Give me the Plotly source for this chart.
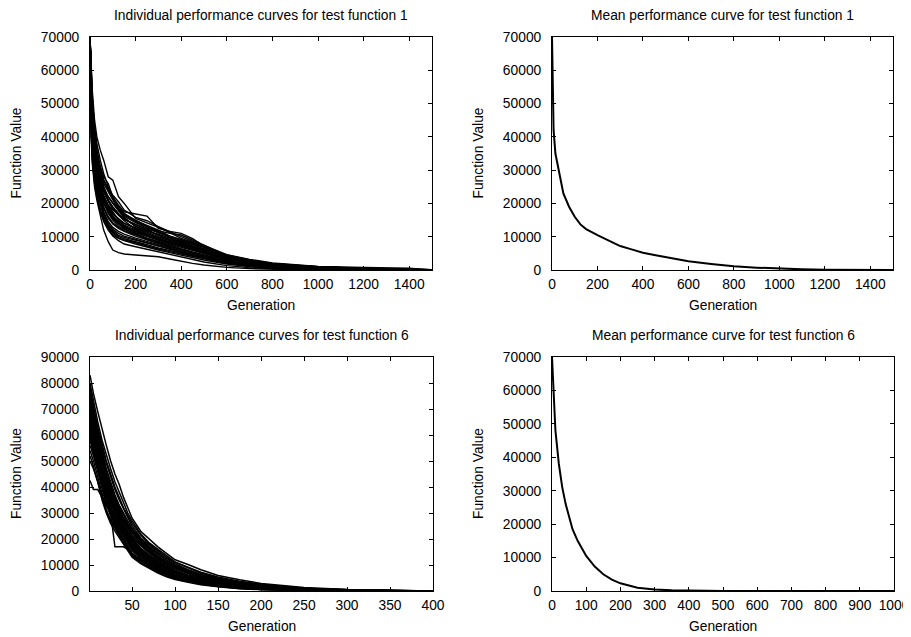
import plotly.graph_objects as go

# ---------------- data ----------------
# Test function 1: individual runs (values in thousands) on a shared generation grid
f1_gen = [0, 5, 10, 20, 30, 45, 60, 80, 100, 125, 150, 200, 250, 300, 350, 400,
          450, 500, 600, 700, 800, 900, 1000, 1200, 1400, 1500]
f1_runs_k = [
    [70, 62, 52, 42, 36, 31, 27, 24, 22, 19.5, 17.5, 16.8, 16.2, 12.5, 11.6, 11.0, 9.4, 7.2, 3.9, 2.6, 1.6, 1.1, 0.8, 0.4, 0.2, 0.05],
    [70, 60, 54, 45, 40, 36, 33, 28, 27, 22, 20, 15.5, 14.2, 12.8, 11.2, 9.5, 8.4, 6.8, 4.0, 2.8, 1.9, 1.3, 0.9, 0.5, 0.3, 0.1],
    [70, 55, 47, 38, 33, 28, 25, 21, 18.5, 16.5, 15.2, 13.8, 12.2, 11.5, 9.8, 8.0, 6.5, 5.6, 3.4, 2.2, 1.5, 1.0, 0.7, 0.35, 0.15, 0.0],
    [70, 52, 44, 35, 30, 25, 21, 18, 16, 14.5, 13.5, 12.0, 10.5, 9.0, 8.0, 7.2, 6.0, 5.0, 3.0, 2.0, 1.3, 0.9, 0.6, 0.3, 0.1, 0.0],
    [70, 48, 40, 32, 27, 22, 18.5, 15.5, 13.8, 12.5, 11.6, 10.2, 9.0, 7.8, 6.8, 5.8, 5.0, 4.2, 2.6, 1.7, 1.0, 0.7, 0.5, 0.2, 0.05, 0.0],
    [70, 45, 36, 28, 23, 18, 15, 12.5, 10.5, 9.5, 8.8, 7.8, 6.8, 6.0, 5.2, 4.4, 3.6, 3.0, 1.8, 1.0, 0.6, 0.4, 0.2, 0.1, 0.0, 0.0],
    [70, 40, 32, 25, 21, 16, 12, 8.5, 6.0, 5.2, 4.8, 4.5, 4.3, 4.0, 3.3, 2.6, 2.0, 1.5, 0.8, 0.4, 0.2, 0.1, 0.05, 0.0, 0.0, 0.0],
    [70, 58, 49, 41, 36, 31, 28, 26, 22, 18.5, 16.5, 14.5, 13.0, 11.8, 11.0, 10.5, 9.0, 7.5, 4.2, 2.6, 1.7, 1.2, 0.9, 0.45, 0.25, 0.05],
    [70, 54, 46, 37, 31, 26, 22.5, 19, 17, 15.5, 14.0, 12.5, 11.0, 9.6, 8.4, 7.5, 6.6, 5.8, 3.6, 2.4, 1.6, 1.1, 0.7, 0.35, 0.15, 0.0],
    [70, 50, 42, 33, 28, 24, 20.5, 17, 15, 13.2, 12.2, 11.0, 9.6, 8.6, 7.4, 6.4, 5.4, 4.6, 2.9, 1.9, 1.2, 0.8, 0.5, 0.25, 0.1, 0.0],
    [70, 47, 39, 31, 26, 21, 17, 14, 12.2, 11.0, 10.2, 9.2, 8.2, 7.0, 6.0, 5.2, 4.4, 3.7, 2.3, 1.5, 0.9, 0.6, 0.4, 0.15, 0.05, 0.0],
    [70, 57, 51, 43, 38, 33, 29, 25, 21.5, 19, 17, 14.8, 13.5, 12.0, 10.2, 9.0, 8.0, 7.0, 4.5, 3.0, 2.0, 1.4, 1.0, 0.5, 0.3, 0.1],
    [70, 44, 37, 30, 25.5, 21, 17.5, 14.5, 12.8, 11.6, 10.8, 9.6, 8.6, 7.6, 6.4, 5.6, 4.7, 4.0, 2.4, 1.4, 0.8, 0.5, 0.3, 0.1, 0.0, 0.0],
    [70, 53, 45, 36, 31, 27, 24, 21, 19, 17, 15.5, 13.2, 11.8, 10.5, 9.2, 8.2, 7.0, 6.0, 3.8, 2.5, 1.7, 1.2, 0.8, 0.4, 0.2, 0.0],
    [70, 42, 34, 27, 22, 17.5, 14.5, 12, 10.2, 8.8, 7.8, 7.0, 6.2, 5.4, 4.6, 3.8, 3.0, 2.4, 1.3, 0.7, 0.4, 0.2, 0.1, 0.0, 0.0, 0.0],
    [70, 60, 52, 42, 35, 29, 25, 22, 20, 18, 16.8, 15.0, 13.0, 11.2, 10.0, 8.8, 7.6, 6.4, 4.0, 2.7, 1.8, 1.2, 0.9, 0.45, 0.25, 0.05],
    [70, 49, 41, 33, 29, 25, 22, 19.5, 17.5, 15, 13.2, 11.5, 10.2, 9.2, 8.2, 7.0, 6.0, 5.2, 3.2, 2.1, 1.4, 0.9, 0.6, 0.3, 0.1, 0.0],
    [70, 46, 38, 30, 25, 20, 16.5, 13.5, 11.5, 10.0, 9.4, 8.6, 7.6, 6.6, 5.8, 5.0, 4.2, 3.5, 2.1, 1.2, 0.7, 0.45, 0.25, 0.1, 0.0, 0.0],
    [70, 56, 48, 39, 34, 29.5, 26, 23.5, 21, 18, 15.8, 13.0, 11.6, 10.8, 9.6, 8.6, 7.8, 6.8, 4.4, 3.0, 2.0, 1.4, 1.0, 0.55, 0.35, 0.1],
    [70, 51, 43, 34, 29, 24.5, 21, 18.5, 16.2, 14.2, 12.8, 11.2, 10.0, 8.8, 7.8, 6.8, 5.8, 5.0, 3.2, 2.0, 1.3, 0.85, 0.55, 0.25, 0.1, 0.0],
    [70, 43, 35, 28, 24, 19.5, 16, 13, 11.0, 9.6, 9.0, 8.2, 7.2, 6.3, 5.5, 4.8, 4.0, 3.3, 2.0, 1.1, 0.6, 0.35, 0.2, 0.05, 0.0, 0.0],
    [70, 59, 50, 40, 34, 30, 27, 24.5, 22.5, 20.5, 18, 15.8, 14.8, 13.0, 11.4, 10.0, 8.6, 7.4, 4.6, 3.2, 2.1, 1.5, 1.1, 0.8, 0.55, 0.0],
    [70, 48, 40, 31, 26, 22, 19, 16, 14.2, 12.8, 11.8, 10.6, 9.4, 8.2, 7.2, 6.2, 5.2, 4.4, 2.8, 1.8, 1.1, 0.7, 0.45, 0.2, 0.05, 0.0],
    [70, 55, 46, 36, 30, 25.5, 22, 19.5, 18.2, 16.5, 14.8, 12.2, 10.8, 9.8, 8.8, 7.8, 7.0, 6.2, 3.9, 2.6, 1.7, 1.1, 0.75, 0.4, 0.2, 0.0],
    [70, 41, 33, 26, 22, 18, 15.5, 13.2, 11.8, 10.4, 9.8, 9.0, 8.0, 7.2, 6.4, 5.4, 4.6, 3.8, 2.2, 1.3, 0.8, 0.5, 0.3, 0.1, 0.0, 0.0],
    [70, 52, 43, 35, 30, 26.5, 23.5, 20.5, 18.5, 16.8, 15.2, 13.6, 12.2, 10.4, 9.2, 8.4, 7.2, 6.2, 3.7, 2.3, 1.5, 1.0, 0.7, 0.35, 0.15, 0.0],
    [70, 46, 38, 31, 27, 23, 20, 17.5, 15.6, 14.0, 12.8, 11.6, 10.4, 9.4, 8.4, 7.2, 6.2, 5.4, 3.4, 2.2, 1.4, 0.9, 0.6, 0.25, 0.1, 0.0],
    [70, 54, 47, 38, 32, 28, 24.5, 22, 20, 17.8, 16.2, 14.2, 12.6, 11.2, 10.2, 9.2, 8.2, 7.1, 4.3, 2.8, 1.8, 1.3, 0.9, 0.45, 0.2, 0.05],
    [70, 50, 41, 32, 27, 23, 20, 17.5, 15.5, 13.8, 12.4, 10.8, 9.2, 8.0, 7.0, 6.0, 5.2, 4.4, 2.6, 1.6, 1.0, 0.65, 0.4, 0.15, 0.05, 0.0],
    [70, 47, 40, 33, 28.5, 24.5, 21.5, 18.5, 16.8, 15.2, 14.0, 12.8, 11.4, 10.0, 8.8, 7.6, 6.6, 5.6, 3.5, 2.3, 1.5, 1.0, 0.7, 0.3, 0.15, 0.0],
]

# Test function 1: mean curve
f1_mean_gen = [0, 3, 7, 15, 30, 50, 75, 100, 125, 150, 200, 250, 300, 350, 400, 450,
               500, 600, 700, 800, 900, 1000, 1100, 1200, 1300, 1400, 1500]
f1_mean_val = [70000, 52000, 42000, 35000, 29500, 23000, 19000, 16000, 13700, 12300, 10500,
               8800, 7200, 6200, 5200, 4500, 3800, 2600, 1800, 1100, 700, 400, 200, 100,
               50, 20, 0]

# Test function 6: individual runs (values in thousands)
f6_gen = [1, 5, 10, 15, 20, 25, 30, 35, 40, 45, 50, 60, 70, 80, 90, 100, 115, 130,
          150, 175, 200, 250, 300, 350, 400]
f6_runs_k = [
    [83, 76, 69, 62, 56, 50, 45, 41, 36, 32, 28, 23, 20, 17, 14.5, 12, 10.2, 8.2, 6.0, 4.3, 2.9, 1.3, 0.6, 0.25, 0.0],
    [80, 73, 65, 58, 52, 47, 42, 38, 34, 30, 27, 22, 18.5, 16, 13.5, 11.2, 9.2, 7.2, 5.4, 3.8, 2.6, 1.1, 0.45, 0.15, 0.0],
    [78, 70, 62, 55, 49, 44, 39, 35, 31.5, 28, 25, 20.5, 17.5, 15, 12.5, 10.5, 8.2, 6.4, 4.8, 3.3, 2.2, 0.95, 0.4, 0.12, 0.0],
    [76, 68, 61, 53, 46, 41, 36, 32.5, 29, 26, 23.5, 19.5, 16.5, 14, 11.8, 9.8, 7.6, 5.9, 4.3, 2.9, 1.9, 0.85, 0.35, 0.1, 0.0],
    [74, 66, 58, 50, 44, 39, 35, 31, 27.5, 25, 22.5, 18, 15, 12.8, 10.8, 9, 7, 5.4, 4.0, 2.7, 1.8, 0.8, 0.3, 0.1, 0.0],
    [72, 65, 57, 49, 43, 38, 34, 30, 27, 24, 21, 17.5, 14.5, 12, 10, 8.5, 6.6, 5.0, 3.6, 2.4, 1.6, 0.7, 0.25, 0.08, 0.0],
    [70, 63, 56, 48, 42, 37, 33, 29.5, 26, 23, 20.5, 16.5, 13.8, 11.5, 9.6, 8, 6.2, 4.7, 3.4, 2.2, 1.5, 0.6, 0.2, 0.05, 0.0],
    [68, 61, 54, 47, 41, 36, 32, 28.5, 25, 22, 19.5, 16, 13, 10.8, 9.0, 7.5, 5.8, 4.4, 3.1, 2.0, 1.3, 0.55, 0.2, 0.05, 0.0],
    [66, 59, 52, 45, 39, 35, 31, 27.5, 24, 21, 18.5, 15, 12.2, 10.2, 8.5, 7, 5.4, 4.1, 2.9, 1.8, 1.2, 0.5, 0.15, 0.04, 0.0],
    [64, 58, 51, 44, 38, 34, 30, 26.5, 23, 20, 17.5, 14, 11.5, 9.5, 8, 6.5, 5, 3.8, 2.6, 1.6, 1.0, 0.4, 0.12, 0.03, 0.0],
    [62, 57, 50, 43, 37, 32, 28, 25, 22, 19, 16.5, 13.2, 10.8, 9, 7.5, 6, 4.6, 3.5, 2.4, 1.5, 0.9, 0.35, 0.1, 0.0, 0.0],
    [60, 55, 49, 42, 36, 31, 27, 24, 21, 18, 15.5, 12.5, 10.2, 8.4, 7, 5.6, 4.3, 3.2, 2.2, 1.3, 0.8, 0.3, 0.08, 0.0, 0.0],
    [58, 53, 47, 40, 34, 30, 26, 23, 20, 17, 14.5, 12, 9.8, 8, 6.6, 5.2, 4, 3, 2.0, 1.2, 0.7, 0.25, 0.05, 0.0, 0.0],
    [56, 52, 46, 39, 33, 29, 25.5, 22, 19.5, 16.5, 14, 11.5, 9.4, 7.6, 6.2, 5, 3.8, 2.8, 1.9, 1.1, 0.65, 0.2, 0.05, 0.0, 0.0],
    [54, 50, 44, 37, 31, 27, 24, 21, 18.5, 16, 13.5, 11, 9, 7.2, 5.8, 4.7, 3.6, 2.6, 1.7, 1.0, 0.6, 0.2, 0.04, 0.0, 0.0],
    [52, 48, 42, 35, 30, 26, 23, 20.5, 18, 15.5, 13, 10.5, 8.6, 6.9, 5.5, 4.4, 3.4, 2.4, 1.6, 0.9, 0.5, 0.15, 0.03, 0.0, 0.0],
    [50, 47, 42, 36, 31, 27.5, 25, 22, 20, 17, 14, 12, 10, 8.0, 7.0, 5.0, 4.0, 3.0, 2.0, 1.2, 0.7, 0.2, 0.05, 0.0, 0.0],
    [42.5, 39, 39, 36, 33, 30, 27, 24, 21.5, 19, 17, 14, 11.5, 9.5, 7.8, 6.4, 4.8, 3.6, 2.5, 1.5, 0.9, 0.35, 0.1, 0.0, 0.0],
    [70, 62, 53, 44, 36, 30, 17, 17, 17, 16, 14.5, 12, 10, 8.5, 7, 5.8, 4.4, 3.3, 2.2, 1.4, 0.85, 0.3, 0.08, 0.0, 0.0],
    [79, 71, 63, 56, 50, 45, 40, 36, 32, 29, 26, 21.5, 18, 15.5, 13, 11, 8.8, 6.8, 5.0, 3.5, 2.4, 1.0, 0.4, 0.15, 0.0],
    [75, 67, 59, 52, 45, 40, 35.5, 31.5, 28, 25.5, 23, 19, 16, 13.5, 11.2, 9.4, 7.3, 5.6, 4.1, 2.8, 1.9, 0.8, 0.3, 0.1, 0.0],
    [71, 64, 57, 50, 44, 39, 34.5, 30.5, 27.5, 24.5, 21.5, 17.5, 14.8, 12.4, 10.4, 8.8, 6.8, 5.2, 3.8, 2.5, 1.7, 0.7, 0.25, 0.08, 0.0],
    [67, 60, 53, 46, 40, 35.5, 31.5, 28, 24.5, 21.5, 19, 15.5, 12.6, 10.5, 8.8, 7.3, 5.6, 4.2, 3.0, 1.9, 1.25, 0.5, 0.18, 0.05, 0.0],
    [63, 57, 50, 43, 38, 33.5, 29.5, 26, 23, 20, 17.8, 14.5, 11.8, 9.8, 8.2, 6.8, 5.2, 3.9, 2.7, 1.7, 1.1, 0.45, 0.12, 0.03, 0.0],
    [59, 54, 48, 41, 35.5, 31, 27, 24, 21.5, 18.5, 16, 13, 10.6, 8.8, 7.2, 5.9, 4.5, 3.4, 2.3, 1.4, 0.85, 0.3, 0.08, 0.0, 0.0],
    [77, 69, 61, 54, 47, 42, 37, 33, 30, 27, 24, 20, 17, 14.5, 12, 10, 7.9, 6.1, 4.5, 3.1, 2.1, 0.9, 0.35, 0.12, 0.0],
    [73, 66, 58, 51, 45, 40, 35, 31, 28, 25, 22.5, 18.5, 15.5, 13, 10.8, 9.2, 7.1, 5.5, 4.0, 2.7, 1.8, 0.75, 0.28, 0.09, 0.0],
    [65, 58, 51, 44, 38.5, 34, 30.5, 27, 23.5, 20.5, 18, 14.8, 12, 10, 8.3, 6.9, 5.3, 4.0, 2.8, 1.75, 1.15, 0.48, 0.14, 0.04, 0.0],
    [61, 56, 49.5, 42.5, 37, 32.5, 28.5, 25.5, 22.5, 19.5, 17, 13.8, 11.2, 9.3, 7.7, 6.3, 4.8, 3.6, 2.5, 1.55, 0.95, 0.38, 0.1, 0.02, 0.0],
    [69, 62, 55, 48, 42, 37, 33, 29, 25.5, 22.5, 20, 16.2, 13.4, 11.2, 9.3, 7.8, 6.0, 4.6, 3.3, 2.1, 1.4, 0.58, 0.22, 0.06, 0.0],
]

# Test function 6: mean curve
f6_mean_gen = [0, 5, 10, 20, 30, 40, 50, 60, 75, 100, 125, 150, 175, 200, 250, 300,
               350, 400, 500, 600, 700, 800, 900, 1000]
f6_mean_val = [70000, 57000, 48000, 38000, 31000, 26000, 22000, 18500, 15000, 10500, 7300,
               5000, 3400, 2300, 1000, 450, 200, 80, 20, 5, 0, 0, 0, 0]

titles = ["Individual performance curves for test function 1",
          "Mean performance curve for test function 1",
          "Individual performance curves for test function 6",
          "Mean performance curve for test function 6"]
x_label = "Generation"
y_label = "Function Value"

# ---------------- figure ----------------
OFF = 8                      # page body margin in the browser
W, H = 911 - OFF, 637 - OFF
FONT = "Liberation Sans, Arial, Helvetica, sans-serif"
FS = 13.8

# plot-area boxes in window pixels (left, right, top, bottom)
boxes = [(90, 432, 37, 270), (552, 893, 37, 270), (90, 433, 357, 591), (552, 894, 357, 591)]

fig = go.Figure()

def add_line(x, y, ax, width):
    fig.add_trace(go.Scatter(x=x, y=y, mode="lines", xaxis="x" + ax, yaxis="y" + ax,
                             line=dict(color="black", width=width), showlegend=False,
                             hoverinfo="skip"))

for run in f1_runs_k:
    add_line(f1_gen, [v * 1000 for v in run], "", 1.4)
add_line(f1_mean_gen, f1_mean_val, "2", 2)
for run in f6_runs_k:
    add_line(f6_gen, [v * 1000 for v in run], "3", 1.5)
add_line(f6_mean_gen, f6_mean_val, "4", 2)

axis_common = dict(showline=True, linecolor="black", linewidth=1, mirror="ticks",
                   ticks="inside", ticklen=4, tickwidth=1, tickcolor="black",
                   showgrid=False, zeroline=False, automargin=False,
                   tickfont=dict(family=FONT, size=FS, color="black"))

xcfg = [dict(range=[0, 1500], tickvals=list(range(0, 1401, 200))),
        dict(range=[0, 1500], tickvals=list(range(0, 1401, 200))),
        dict(range=[1, 400], tickvals=list(range(50, 401, 50))),
        dict(range=[0, 1000], tickvals=list(range(0, 1001, 100)))]
ycfg = [dict(range=[0, 70000], tickvals=list(range(0, 70001, 10000))),
        dict(range=[0, 70000], tickvals=list(range(0, 70001, 10000))),
        dict(range=[0, 90000], tickvals=list(range(0, 90001, 10000))),
        dict(range=[0, 70000], tickvals=list(range(0, 70001, 10000)))]

layout = dict(template="none", width=W, height=H, margin=dict(l=0, r=0, t=0, b=0),
              paper_bgcolor="white", plot_bgcolor="white",
              font=dict(family=FONT, size=FS, color="black"))

def px(xw):
    return (xw - OFF) / W

def py(yw):
    return 1 - (yw - OFF) / H

annotations = []
for i, (l, r, t, b) in enumerate(boxes):
    sfx = "" if i == 0 else str(i + 1)
    layout["xaxis" + sfx] = dict(domain=[px(l), px(r)], anchor="y" + sfx, tickformat="d",
                                 ticklabelstandoff=1, **xcfg[i], **axis_common)
    layout["yaxis" + sfx] = dict(domain=[py(b), py(t)], anchor="x" + sfx, tickformat="d",
                                 ticklabelstandoff=7, **ycfg[i], **axis_common)
    cxw = (l + r) / 2
    annotations.append(dict(text=titles[i], x=px(cxw), y=py(t - 22), xref="paper",
                            yref="paper", showarrow=False, xanchor="center",
                            yanchor="middle", font=dict(family=FONT, size=FS)))
    annotations.append(dict(text=x_label, x=px(cxw), y=py(b + 35), xref="paper",
                            yref="paper", showarrow=False, xanchor="center",
                            yanchor="middle", font=dict(family=FONT, size=FS)))
    annotations.append(dict(text=y_label, x=px(l - 74), y=py((t + b) / 2),
                            xref="paper", yref="paper", showarrow=False, textangle=-90,
                            xanchor="center", yanchor="middle",
                            font=dict(family=FONT, size=FS)))
layout["annotations"] = annotations
fig.update_layout(**layout)

fig.write_html("out.html")
